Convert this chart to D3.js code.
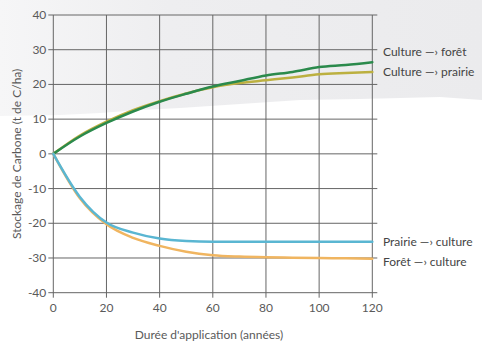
<!DOCTYPE html>
<html>
<head>
<meta charset="utf-8">
<script src="https://cdn.jsdelivr.net/npm/d3@7"></script>
<style>
  body { margin: 0; background: #fff; }
  svg { display: block; font-family: Lato, "Open Sans", sans-serif; }
</style>
</head>
<body>
<script>
// données
const years = [0, 10, 20, 30, 40, 50, 60, 70, 80, 90, 100, 110, 120];
const cultureForet   = [0, 5.0, 8.9, 12.2, 15.0, 17.3, 19.4, 21.0, 22.6, 23.6, 25.0, 25.6, 26.4];
const culturePrairie = [0, 5.3, 9.3, 12.6, 15.2, 17.4, 19.2, 20.4, 21.2, 22.0, 22.9, 23.3, 23.6];
const prairieCulture = [0, -12.4, -19.8, -22.7, -24.4, -25.1, -25.3, -25.3, -25.3, -25.3, -25.3, -25.3, -25.3];
const foretCulture   = [0, -12.8, -20.3, -24.2, -26.5, -28.2, -29.2, -29.6, -29.8, -29.9, -30.0, -30.1, -30.2];
const seriesNames = ["Culture —› forêt", "Culture —› prairie", "Prairie —› culture", "Forêt —› culture"];
const xTicks = [0, 20, 40, 60, 80, 100, 120];
const yTicks = [-40, -30, -20, -10, 0, 10, 20, 30, 40];

const WIDTH = 482, HEIGHT = 344;
const svg = d3.select("body").append("svg").attr("width", WIDTH).attr("height", HEIGHT);

// fond gris du papier scanné (haut)
const bg = svg.append("defs").append("linearGradient").attr("id", "paper")
  .attr("x1", 0).attr("x2", 1).attr("y1", 0).attr("y2", 0);
bg.append("stop").attr("offset", 0).attr("stop-color", "#f6f6f7");
bg.append("stop").attr("offset", 0.35).attr("stop-color", "#eeeef0");
bg.append("stop").attr("offset", 1).attr("stop-color", "#ebebed");
svg.append("path")
  .attr("d", "M0,0 H482 V100 L440,97 L400,98 L360,99 L300,100 L240,104 L180,108 L140,110 L100,113 L60,115 L0,116 Z")
  .attr("fill", "url(#paper)");

const x = d3.scaleLinear().domain([0, 120]).range([53.3, 372.3]);
const y = d3.scaleLinear().domain([-40, 40]).range([292.7, 15]);

const grid = svg.append("g").attr("stroke", "#666").attr("stroke-width", 1);
grid.selectAll("line.h").data(yTicks).enter().append("line")
  .attr("x1", x(0) - 5).attr("x2", x(120) + 5)
  .attr("y1", d => y(d)).attr("y2", d => y(d));
grid.selectAll("line.v").data(xTicks).enter().append("line")
  .attr("x1", d => x(d)).attr("x2", d => x(d))
  .attr("y1", y(40)).attr("y2", y(-40) + 5);

// libellés des axes
const txt = { size: 12, fill: "#5a5a5a" };
svg.append("g").selectAll("text").data(yTicks).enter().append("text")
  .attr("x", x(0) - 7).attr("y", d => y(d) + 4)
  .attr("text-anchor", "end").attr("font-size", txt.size).attr("fill", txt.fill)
  .text(d => d);
svg.append("g").selectAll("text").data(xTicks).enter().append("text")
  .attr("x", d => x(d)).attr("y", y(-40) + 19)
  .attr("text-anchor", "middle").attr("font-size", txt.size).attr("fill", txt.fill)
  .text(d => d);

svg.append("text")
  .attr("transform", `translate(21,${y(0)}) rotate(-90)`)
  .attr("text-anchor", "middle").attr("font-size", txt.size).attr("fill", txt.fill)
  .text("Stockage de Carbone (t de C/ha)");
svg.append("text")
  .attr("x", 209).attr("y", 339)
  .attr("text-anchor", "middle").attr("font-size", txt.size).attr("fill", txt.fill)
  .text("Durée d'application (années)");

// courbes
const series = [
  { name: seriesNames[1], values: culturePrairie, color: "#bcb040" },
  { name: seriesNames[0], values: cultureForet, color: "#2b8a4c" },
  { name: seriesNames[3], values: foretCulture, color: "#f0b560" },
  { name: seriesNames[2], values: prairieCulture, color: "#5ab6d2" }
];
const line = d3.line().x((d, i) => x(years[i])).y(d => y(d)).curve(d3.curveMonotoneX);
svg.append("g").selectAll("path").data(series).enter().append("path")
  .attr("d", d => line(d.values))
  .attr("fill", "none").attr("stroke", d => d.color).attr("stroke-width", 2.5)
  .attr("stroke-linecap", "round");

// étiquettes à droite
const labelY = [52, 72, 242, 262];
svg.append("g").selectAll("text").data(seriesNames).enter().append("text")
  .attr("x", 383).attr("y", (d, i) => labelY[i] + 4)
  .attr("font-size", 12).attr("fill", "#444")
  .text(d => d);
</script>
</body>
</html>
